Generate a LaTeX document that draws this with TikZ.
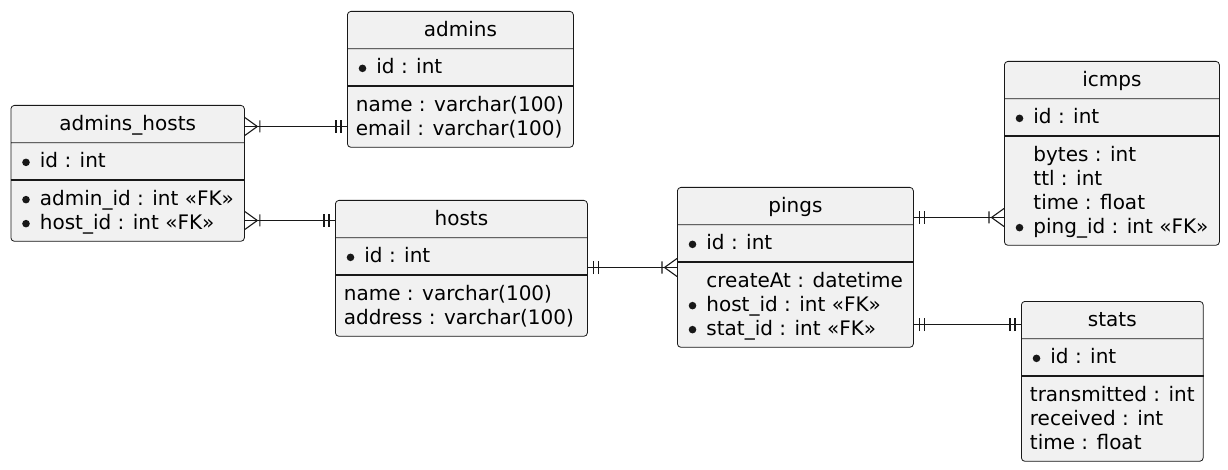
\documentclass[tikz,border=0pt]{standalone}
\usepackage{fontspec}
\setmainfont{DejaVu Sans}
\usetikzlibrary{shapes.multipart, decorations.markings}
\definecolor{entityfill}{HTML}{F1F1F1}
\definecolor{entityline}{HTML}{181818}

% attribute rows: key bullet, indented, plain
\newcommand{\rowstrut}{\rule[-5.5pt]{0pt}{24pt}}
\newcommand{\keyattr}{\rowstrut\makebox[20.5pt][l]{\hspace{2.8pt}\tikz[baseline=-5.5pt]\fill[entityline] (0,0) circle[radius=3.8pt];}}
\newcommand{\indattr}{\rowstrut\makebox[20.5pt][l]{}}

\begin{document}
\begin{tikzpicture}[
    x=1pt, y=-1pt,
    entity/.style={
        rectangle split, rectangle split parts=3,
        rectangle split part align={center,left,left},
        draw=entityline, fill=entityfill, line width=0.8pt,
        rounded corners=3.5pt, anchor=north west, align=left,
        inner xsep=8.5pt, inner ysep=6.25pt,
        font=\fontsize{20}{24}\selectfont, minimum width=#1,
    },
    keyrule/.style={draw=entityline, line width=1.4pt},
    relation/.style={draw=entityline, line width=1.1pt},
    bars start/.style={postaction={decorate, decoration={markings, mark=at position 0 with {
        \draw[relation] (6pt,-6.5pt) -- (6pt,6.5pt) (11pt,-6.5pt) -- (11pt,6.5pt);}}}},
    bars end/.style={postaction={decorate, decoration={markings, mark=at position 1 with {
        \draw[relation] (-6pt,-6.5pt) -- (-6pt,6.5pt) (-11pt,-6.5pt) -- (-11pt,6.5pt);}}}},
    crow start/.style={postaction={decorate, decoration={markings, mark=at position 0 with {
        \draw[relation] (0pt,9pt) -- (12.5pt,0pt) -- (0pt,-9pt) (15pt,-6pt) -- (15pt,6pt);}}}},
    crow end/.style={postaction={decorate, decoration={markings, mark=at position 1 with {
        \draw[relation] (0pt,9pt) -- (-12.5pt,0pt) -- (0pt,-9pt) (-15pt,-6pt) -- (-15pt,6pt);}}}},
]

\path[fill=white] (0,0) rectangle (1228,470);

\node[entity=233.5pt] (ah) at (10.5,105) {%
    \rowstrut admins\_hosts
    \nodepart{two}\keyattr id : int
    \nodepart{three}\keyattr admin\_id : int «FK»\\
    \keyattr host\_id : int «FK»};

\node[entity=226pt] (admins) at (347,11) {%
    \rowstrut admins
    \nodepart{two}\keyattr id : int
    \nodepart{three}\rowstrut name : varchar(100)\\
    \rowstrut email : varchar(100)};

\node[entity=252pt] (hosts) at (335,200) {%
    \rowstrut hosts
    \nodepart{two}\keyattr id : int
    \nodepart{three}\rowstrut name : varchar(100)\\
    \rowstrut address : varchar(100)};

\node[entity=236pt] (pings) at (677,187) {%
    \rowstrut pings
    \nodepart{two}\keyattr id : int
    \nodepart{three}\indattr createAt : datetime\\
    \keyattr host\_id : int «FK»\\
    \keyattr stat\_id : int «FK»};

\node[entity=215pt] (icmps) at (1004,61) {%
    \rowstrut icmps
    \nodepart{two}\keyattr id : int
    \nodepart{three}\indattr bytes : int\\
    \indattr ttl : int\\
    \indattr time : float\\
    \keyattr ping\_id : int «FK»};

\node[entity=181pt] (stats) at (1021,301) {%
    \rowstrut stats
    \nodepart{two}\keyattr id : int
    \nodepart{three}\rowstrut transmitted : int\\
    \rowstrut received : int\\
    \rowstrut time : float};

% heavier rule under the key section
\draw[keyrule] (ah.two split west) -- (ah.two split east);
\draw[keyrule] (admins.two split west) -- (admins.two split east);
\draw[keyrule] (hosts.two split west) -- (hosts.two split east);
\draw[keyrule] (pings.two split west) -- (pings.two split east);
\draw[keyrule] (icmps.two split west) -- (icmps.two split east);
\draw[keyrule] (stats.two split west) -- (stats.two split east);

% connector levels
\coordinate (lvlAdmins) at (0,126.5);
\coordinate (lvlHosts) at (0,220.5);
\coordinate (lvlPings) at (0,267.5);
\coordinate (lvlIcmps) at (0,217.5);
\coordinate (lvlStats) at (0,324.5);

\draw[relation, crow start, bars end] (ah.east |- lvlAdmins) -- (admins.west |- lvlAdmins);
\draw[relation, crow start, bars end] (ah.east |- lvlHosts) -- (hosts.west |- lvlHosts);
\draw[relation, bars start, crow end] (hosts.east |- lvlPings) -- (pings.west |- lvlPings);
\draw[relation, bars start, crow end] (pings.east |- lvlIcmps) -- (icmps.west |- lvlIcmps);
\draw[relation, bars start, bars end] (pings.east |- lvlStats) -- (stats.west |- lvlStats);

\end{tikzpicture}
\end{document}
